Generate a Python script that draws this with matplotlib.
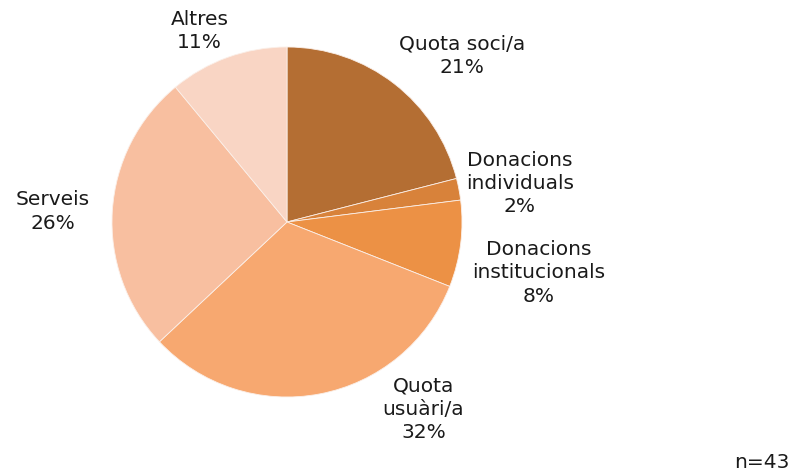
import matplotlib
matplotlib.use("Agg")
import matplotlib.pyplot as plt

labels = ["Quota soci/a", "Donacions\nindividuals", "Donacions\ninstitucionals",
          "Quota\nusuàri/a", "Serveis", "Altres"]
shares = [21, 2, 8, 32, 26, 11]
colors = ["#B46E33", "#D8823A", "#EC9145", "#F7A870", "#F8BFA0", "#F9D5C4"]
# label centres, in pie radii from the centre
label_pos = [(1.0, 0.95), (1.33, 0.22), (1.44, -0.29), (0.78, -1.07), (-1.34, 0.06), (-0.5, 1.09)]

fig = plt.figure(figsize=(7.94, 4.73), dpi=100)
ax = fig.add_axes([112 / 794, 76 / 473, 350 / 794, 350 / 473])
ax.pie(shares, colors=colors, startangle=90, counterclock=False, radius=1,
       wedgeprops={"edgecolor": "#FBEFE8", "linewidth": 0.6})
ax.set_xlim(-1, 1)
ax.set_ylim(-1, 1)
ax.set_aspect("equal")
ax.axis("off")

for name, value, (x, y) in zip(labels, shares, label_pos):
    ax.text(x, y, f"{name}\n{value}%", ha="center", va="center", fontsize=14.5,
            linespacing=1.3, color="#1A1A1A", clip_on=False)

fig.text(790 / 794, 1 - 462 / 473, "n=43", ha="right", va="center", fontsize=14.5, color="#1A1A1A")

fig.savefig("out.png", dpi=100)
